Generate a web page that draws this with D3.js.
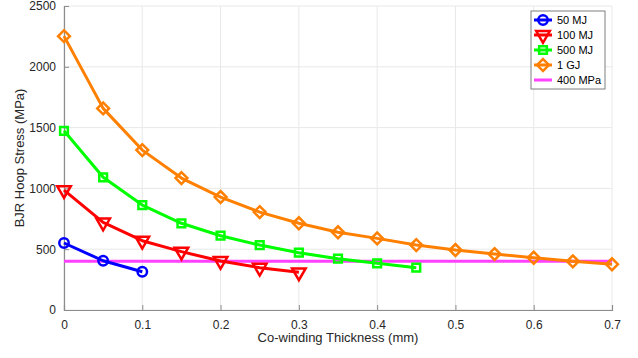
<!DOCTYPE html>
<meta charset="utf-8">
<style>
  body { margin: 0; background: #fff; }
  text { font-family: "Liberation Sans", Arial, sans-serif; }
  .line { fill: none; stroke-width: 3px; stroke-linejoin: round; }
</style>
<body>
<div id="chart"></div>
<script src="https://d3js.org/d3.v7.min.js"></script>
<script>
// thickness (mm) for each series
var thick = [0, 0.05, 0.1, 0.15, 0.2, 0.25, 0.3, 0.35, 0.4, 0.45, 0.5, 0.55, 0.6, 0.65, 0.7];
var mj50 = [551, 405, 315];
var mj100 = [986, 720, 570, 480, 403, 348, 310];
var mj500 = [1474, 1091, 863, 713, 611, 534, 471, 422, 384, 348];
var gj1 = [2252, 1658, 1315, 1085, 929, 805, 713, 639, 589, 534, 493, 460, 430, 400, 376];
var limit = 400;
var xTicks = [0, 0.1, 0.2, 0.3, 0.4, 0.5, 0.6, 0.7];
var yTicks = [0, 500, 1000, 1500, 2000, 2500];

var W = 638, H = 358;
var margin = { top: 6, right: 26, bottom: 48, left: 64 },
  width = W - margin.left - margin.right,
  height = H - margin.top - margin.bottom;

var x = d3.scaleLinear().domain([0, 0.7]).range([0, width]);
var y = d3.scaleLinear().domain([0, 2500]).range([height, 0]);

var svg = d3.select("#chart").append("svg")
  .attr("width", W).attr("height", H);
var g = svg.append("g").attr("transform", "translate(" + margin.left + "," + margin.top + ")");

// grid
g.selectAll(".gx").data(xTicks).enter().append("line")
  .attr("x1", d => x(d)).attr("x2", d => x(d))
  .attr("y1", 0).attr("y2", height)
  .attr("stroke", "#e8e8e8").attr("stroke-width", 1);
g.selectAll(".gy").data(yTicks).enter().append("line")
  .attr("x1", 0).attr("x2", width)
  .attr("y1", d => y(d)).attr("y2", d => y(d))
  .attr("stroke", "#e8e8e8").attr("stroke-width", 1);

// axes
var xAxis = g.append("g").attr("transform", "translate(0," + height + ")")
  .call(d3.axisBottom(x).tickValues(xTicks).tickSize(-5).tickPadding(10)
    .tickFormat(d => d === 0 ? "0" : d3.format(".1f")(d)));
var yAxis = g.append("g")
  .call(d3.axisLeft(y).tickValues(yTicks).tickSize(-5).tickPadding(8)
    .tickFormat(d3.format("d")));
[xAxis, yAxis].forEach(function (a) {
  a.select(".domain").attr("stroke", "#8c8c8c").attr("stroke-width", 1.2);
  a.selectAll(".tick line").attr("stroke", "#8c8c8c");
  a.selectAll(".tick text").attr("fill", "#262626").attr("font-size", 12);
});

// series
var series = [
  { name: "50 MJ", vals: mj50, color: "#0000ff", sym: d3.symbolCircle, size: 70, rot: 0 },
  { name: "100 MJ", vals: mj100, color: "#ff0000", sym: d3.symbolTriangle, size: 80, rot: 180 },
  { name: "500 MJ", vals: mj500, color: "#00ff00", sym: d3.symbolSquare, size: 60, rot: 0 },
  { name: "1 GJ", vals: gj1, color: "#ff8000", sym: d3.symbolSquare, size: 70, rot: 45 }
];

var line = d3.line().x(d => x(d[0])).y(d => y(d[1]));

// 400 MPa reference line drawn first so series sit above it where they cross
g.append("line")
  .attr("x1", x(0)).attr("x2", x(0.7))
  .attr("y1", y(limit)).attr("y2", y(limit))
  .attr("stroke", "#ff40ff").attr("stroke-width", 3);

series.forEach(function (s) {
  var pts = s.vals.map((v, i) => [thick[i], v]);
  g.append("path").datum(pts).attr("class", "line")
    .attr("stroke", s.color).attr("d", line);
  g.selectAll(null).data(pts).enter().append("path")
    .attr("d", d3.symbol().type(s.sym).size(s.size))
    .attr("transform", d => "translate(" + x(d[0]) + "," + y(d[1]) + ") rotate(" + s.rot + ")")
    .attr("fill", "none").attr("stroke", s.color).attr("stroke-width", 2.5);
});

// labels
svg.append("text")
  .attr("x", margin.left + width / 2).attr("y", H - 16)
  .attr("text-anchor", "middle").attr("font-size", 13).attr("fill", "#262626")
  .text("Co-winding Thickness (mm)");
svg.append("text")
  .attr("transform", "translate(24," + (margin.top + height / 2) + ") rotate(-90)")
  .attr("text-anchor", "middle").attr("font-size", 13).attr("fill", "#262626")
  .text("BJR Hoop Stress (MPa)");

// legend
var lg = svg.append("g").attr("transform", "translate(531,11)");
lg.append("rect").attr("width", 74).attr("height", 78)
  .attr("fill", "#fff").attr("stroke", "#7f7f7f").attr("stroke-width", 1);
var items = series.concat([{ name: "400 MPa", color: "#ff40ff", sym: null }]);
items.forEach(function (s, i) {
  var ly = 9 + i * 15;
  lg.append("line").attr("x1", 3).attr("x2", 21).attr("y1", ly).attr("y2", ly)
    .attr("stroke", s.color).attr("stroke-width", 3);
  if (s.sym) {
    lg.append("path")
      .attr("d", d3.symbol().type(s.sym).size(s.size))
      .attr("transform", "translate(12," + ly + ") rotate(" + s.rot + ")")
      .attr("fill", "none").attr("stroke", s.color).attr("stroke-width", 2.5);
  }
  lg.append("text").attr("x", 26).attr("y", ly + 4)
    .attr("font-size", 11).attr("fill", "#000").text(s.name);
});
</script>
</body>
